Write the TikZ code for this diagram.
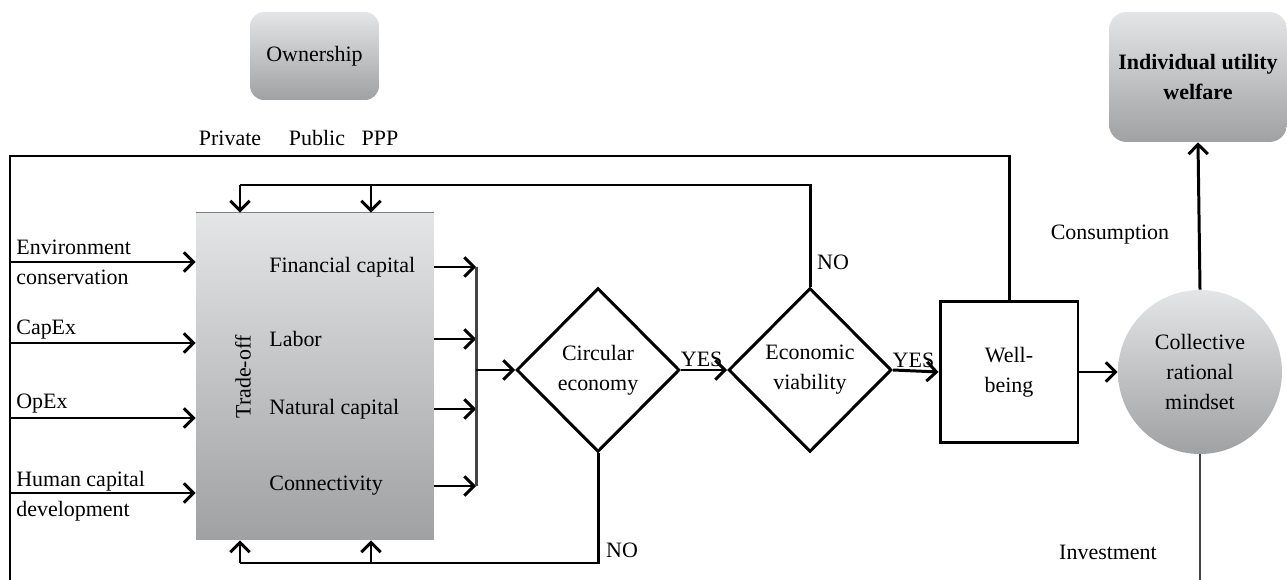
\documentclass[tikz,border=0pt]{standalone}
\usepackage{fontspec}
\setmainfont{Liberation Serif}
\usetikzlibrary{shapes.geometric,arrows.meta}
\definecolor{shadetop}{HTML}{E4E5E7}
\definecolor{shadebot}{HTML}{A0A1A3}
\definecolor{busgray}{HTML}{444444}

\begin{document}
\begin{tikzpicture}[x=0.02cm,y=-0.02cm]

    \tikzset{
      wire/.style={line width=1.7pt},
      arr/.style={
        wire,
        -{Straight Barb[length=5.5pt,width=11pt]},
      },
      shaded/.style={
        top color=shadetop,
        bottom color=shadebot,
        draw=none,
      },
      txt/.style={
        font=\fontsize{12.5}{17}\selectfont,
        inner sep=0pt,
      },
      decision/.style={
        diamond,
        draw,
        wire,
        txt,
        align=center,
        minimum width=3.26cm,
        minimum height=3.28cm,
      },
    }
    \useasboundingbox (0,0) rectangle (1287,580);

    % boxes
    \node[shaded, txt, rounded corners=8pt, minimum width=2.58cm, minimum height=1.76cm] (own) at (314.5,56) {Ownership};
    \node[shaded, txt, align=center, font=\fontsize{12.5}{17}\selectfont\bfseries, rounded corners=10pt, minimum width=3.56cm, minimum height=2.6cm] (util) at (1198,77) {Individual utility\\welfare};
    \node[shaded, minimum width=4.76cm, minimum height=6.54cm] (trade) at (315,376.5) {};
    \draw[gray, line width=0.6pt] (trade.north west) -- (trade.north east);
    \node[txt, rotate=90] (tradelbl) at (243,377) {Trade-off};
    \node[txt, anchor=west] (fin) at (269,267) {Financial capital};
    \node[txt, anchor=west] (lab) at (269,339) {Labor};
    \node[txt, anchor=west] (nat) at (269,409) {Natural capital};
    \node[txt, anchor=west] (con) at (269,486) {Connectivity};
    \node[decision] (circ) at (598,370) {Circular\\economy};
    \node[decision] (econ) at (810,370) {Economic\\viability};
    \node[draw, wire, txt, align=center, minimum width=2.76cm, minimum height=2.84cm] (well) at (1009,372) {Well-\\being};
    \node[circle, shaded, txt, align=center, minimum size=3.28cm] (mind) at (1200,372) {Collective\\rational\\mindset};

    % plain labels
    \node[txt] (priv) at (230,138) {Private};
    \node[txt] (pub) at (317,138) {Public};
    \node[txt] (ppp) at (380,138) {PPP};
    \node[txt] (cons) at (1110,235) {Consumption};
    \node[txt] (inv) at (1108,552) {Investment};
    \node[txt] (no1) at (833,262) {NO};
    \node[txt] (no2) at (622,550) {NO};
    \node[txt, anchor=west, align=left] (envlbl) at (16,262) {Environment\\conservation};
    \node[txt, anchor=west] (capexlbl) at (16,330) {CapEx};
    \node[txt, anchor=west] (opexlbl) at (16,404) {OpEx};
    \node[txt, anchor=west, align=left] (humlbl) at (16,496) {Human capital\\development};

    % outer loop
    \coordinate (tl) at (10,156);
    \coordinate (bl) at (10,580);
    \draw[wire] (well.north) |- (tl) -- (bl);
    \coordinate (in1) at (10,262);
    \coordinate (in2) at (10,343);
    \coordinate (in3) at (10,418);
    \coordinate (in4) at (10,493);
    \foreach \p in {in1,in2,in3,in4}
      \draw[arr] (\p) -- (\p -| trade.west);

    % bus into circular economy
    \coordinate (bustop) at (476,267);
    \coordinate (busbot) at (476,486);
    \coordinate (busmid) at (476,370);
    \foreach \n in {fin,lab,nat,con}
      \draw[arr] (trade.east |- \n) -- (bustop |- \n);
    \draw[wire, busgray] (bustop) -- (busbot);
    \draw[arr] (busmid) -- (circ.west);

    % decisions
    \draw[arr] (circ.east) -- (econ.west) node[txt, pos=0.45, above=1pt] (yes1) {YES};
    \draw[arr] (econ.east) -- (well.west) node[txt, pos=0.45, above=1pt] (yes2) {YES};
    \draw[arr] (well.east) -- (mind.west);
    \draw[arr] (mind.north) -- (util.south);
    \draw[busgray, line width=1.2pt] (mind.south) -- (mind.south |- bl);

    % feedback loops
    \coordinate (fbtop) at (240,185);
    \coordinate (fbtop2) at (371,185);
    \draw[wire] (econ.north) |- (fbtop);
    \draw[arr] (fbtop) -- (fbtop |- trade.north);
    \draw[arr] (fbtop2) -- (fbtop2 |- trade.north);
    \coordinate (fbbot) at (240,563);
    \coordinate (fbbot2) at (371,563);
    \draw[wire] (circ.south) |- (fbbot);
    \draw[arr] (fbbot) -- (fbbot |- trade.south);
    \draw[arr] (fbbot2) -- (fbbot2 |- trade.south);

\end{tikzpicture}
\end{document}
